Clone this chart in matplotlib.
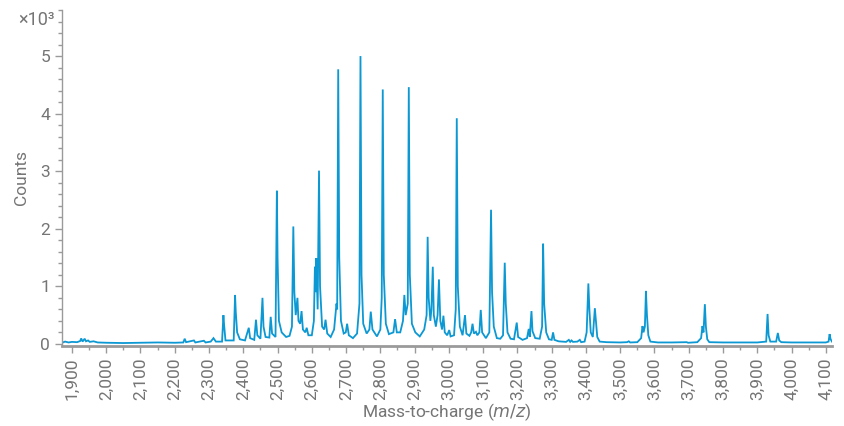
import matplotlib.pyplot as plt
from matplotlib.ticker import MultipleLocator, FuncFormatter
import numpy as np

# spectrum trace (m/z, counts)
mz = [1871, 1880, 1890, 1900, 1915, 1924, 1927, 1931, 1937, 1941, 1947, 1952,
      1963, 1975, 2000, 2050, 2100, 2150, 2200, 2225, 2229, 2233, 2256, 2260,
      2285, 2290, 2305, 2313, 2320, 2338, 2342, 2344, 2348, 2372, 2376, 2378,
      2382, 2390, 2405, 2416, 2420, 2432, 2437, 2441, 2450, 2456, 2459, 2465,
      2476, 2480, 2484, 2494, 2498, 2500, 2504, 2512, 2525, 2535, 2542, 2546,
      2549, 2553, 2558, 2561, 2566, 2570, 2574, 2581, 2585, 2590, 2600, 2606,
      2609, 2611, 2613, 2617, 2621, 2624, 2630, 2636, 2640, 2645, 2655, 2665,
      2672, 2674, 2677, 2680, 2685, 2693, 2699, 2703, 2708, 2720, 2732, 2739,
      2742, 2745, 2750, 2760, 2768, 2772, 2777, 2790, 2800, 2804, 2807, 2810,
      2816, 2825, 2838, 2843, 2848, 2858, 2866, 2870, 2874, 2880, 2883, 2886,
      2892, 2902, 2915, 2928, 2935, 2938, 2941, 2946, 2949, 2953, 2956, 2962,
      2967, 2971, 2975, 2980, 2984, 2988, 2995, 3001, 3005, 3015, 3020, 3023,
      3026, 3032, 3040, 3047, 3051, 3060, 3065, 3069, 3073, 3079, 3083, 3089,
      3093, 3097, 3108, 3118, 3123, 3126, 3131, 3140, 3150, 3158, 3163, 3166,
      3171, 3180, 3190, 3198, 3202, 3215, 3228, 3233, 3236, 3241, 3244, 3252,
      3265, 3272, 3275, 3278, 3284, 3292, 3300, 3304, 3308, 3320, 3330, 3342,
      3350, 3354, 3358, 3362, 3375, 3382, 3386, 3396, 3402, 3407, 3410, 3414,
      3420, 3426, 3429, 3433, 3440, 3460, 3500, 3520, 3525, 3529, 3550, 3561,
      3565, 3568, 3572, 3575, 3578, 3582, 3588, 3610, 3650, 3694, 3698, 3725,
      3736, 3740, 3743, 3747, 3750, 3754, 3760, 3800, 3850, 3900, 3926, 3930,
      3933, 3938, 3955, 3960, 3964, 3970, 4000, 4050, 4100, 4108, 4111, 4114,
      4118]
counts = [20, 40, 25, 35, 30, 50, 95, 40, 90, 45, 60, 35,
          45, 25, 20, 15, 20, 25, 20, 25, 90, 30, 60, 25,
          55, 25, 40, 100, 40, 40, 500, 330, 60, 60, 850, 560,
          200, 80, 60, 280, 100, 70, 420, 150, 90, 800, 300, 120,
          110, 470, 180, 120, 2660, 1500, 400, 200, 120, 140, 300, 2040,
          900, 500, 800, 400, 350, 570, 250, 200, 280, 150, 150, 400,
          1340, 900, 1490, 600, 3010, 1000, 300, 250, 420, 180, 120, 250,
          700, 600, 4770, 1500, 400, 180, 200, 350, 150, 100, 180, 700,
          5000, 1200, 350, 180, 250, 560, 250, 130, 250, 800, 4420, 1200,
          350, 170, 200, 430, 200, 200, 400, 850, 500, 700, 4460, 1200,
          350, 200, 130, 250, 500, 1860, 800, 400, 600, 1340, 500, 300,
          500, 1120, 400, 250, 490, 200, 150, 240, 130, 150, 600, 3920,
          1000, 300, 150, 500, 180, 140, 200, 350, 180, 210, 150, 200,
          590, 200, 100, 200, 2330, 900, 300, 100, 90, 150, 1410, 700,
          200, 90, 80, 370, 120, 70, 100, 260, 120, 570, 220, 100,
          90, 300, 1740, 700, 200, 80, 70, 200, 70, 45, 40, 35,
          70, 35, 60, 35, 40, 70, 30, 40, 200, 1050, 600, 200,
          120, 620, 400, 120, 40, 30, 25, 30, 45, 25, 30, 100,
          310, 200, 300, 920, 500, 150, 40, 25, 25, 30, 20, 30,
          100, 310, 200, 690, 300, 80, 30, 25, 25, 25, 40, 520,
          150, 40, 40, 190, 60, 30, 25, 25, 25, 40, 170, 80,
          40]

x_ticks = np.arange(1900, 4101, 100)
y_ticks = [0, 1000, 2000, 3000, 4000, 5000]

text_grey = '#757575'
axis_grey = '#9a9a9a'
line_blue = '#0b98d3'


def main():
    plt.rcParams['font.family'] = ['Roboto', 'DejaVu Sans']

    fig = plt.figure(figsize=(8.45, 4.26), dpi=100)
    ax = fig.add_axes([0.0734, 0.188, 0.9112, 0.7885])

    ax.plot(mz, counts, color=line_blue, lw=1.3, solid_joinstyle='miter')

    ax.set_xlim(1871, 4118)
    ax.set_ylim(-35, 5800)

    ax.set_xticks(x_ticks)
    ax.xaxis.set_minor_locator(MultipleLocator(50))
    ax.xaxis.set_major_formatter(FuncFormatter(lambda v, p: f'{v:,.0f}'))
    ax.set_yticks(y_ticks)
    ax.yaxis.set_minor_locator(MultipleLocator(200))
    ax.yaxis.set_major_formatter(FuncFormatter(lambda v, p: f'{v / 1000:.0f}'))

    for s in ['top', 'right']:
        ax.spines[s].set_visible(False)
    ax.spines['left'].set_color(axis_grey)
    ax.spines['left'].set_linewidth(1.0)
    ax.spines['bottom'].set_color(axis_grey)
    ax.spines['bottom'].set_linewidth(2.0)

    ax.tick_params(axis='both', which='major', colors=axis_grey, labelcolor=text_grey,
                   labelsize=12.5, length=5, width=1)
    ax.tick_params(axis='both', which='minor', colors=axis_grey, length=3, width=1)
    ax.tick_params(axis='x', which='major', labelrotation=90, pad=3)

    ax.set_xlabel('Mass-to-charge ($\\mathit{m/z}$)', color=text_grey, fontsize=12.5, labelpad=1)
    ax.set_ylabel('Counts', color=text_grey, fontsize=12.5, labelpad=8)
    ax.text(-0.009, 0.97, '×10³', transform=ax.transAxes, ha='right', va='center',
            color=text_grey, fontsize=13)

    fig.savefig('out.png', dpi=100)


if __name__ == "__main__":
    main()
